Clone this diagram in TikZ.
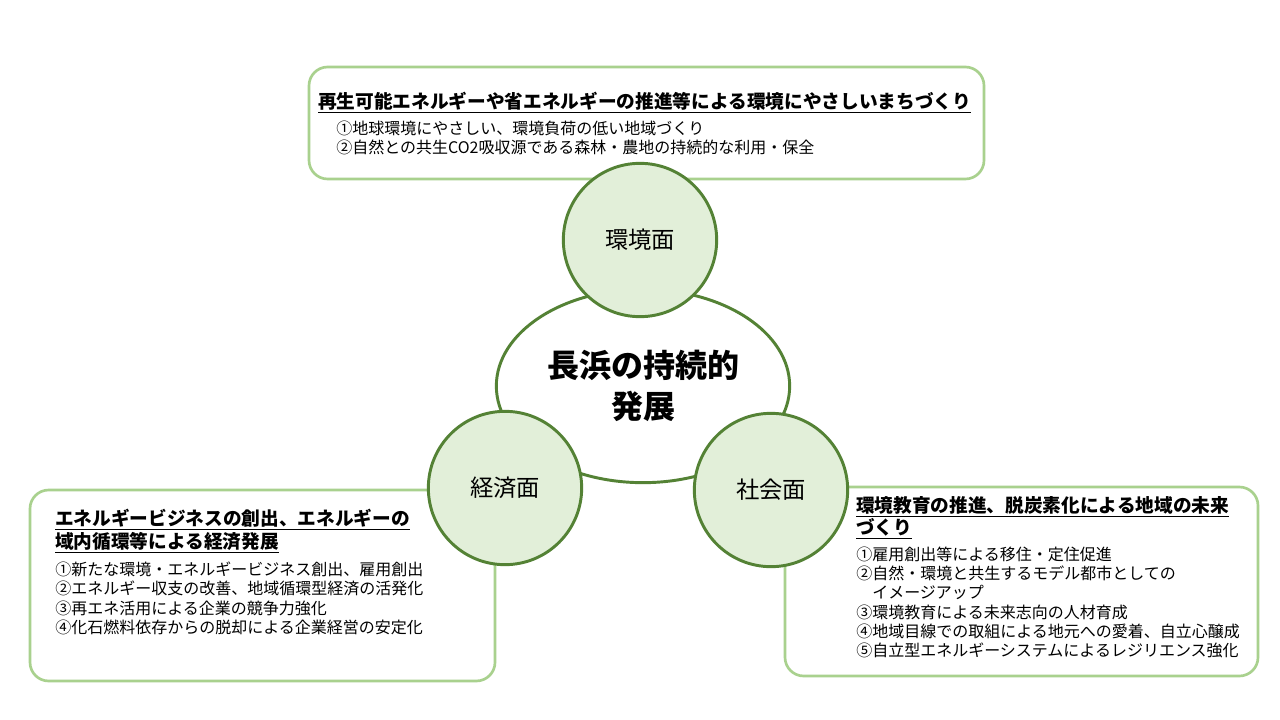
\documentclass[tikz,border=0pt]{standalone}
\usepackage{fontspec}
\usetikzlibrary{shapes.geometric}
\setmainfont{Noto Sans CJK JP}
\begin{document}
\begin{tikzpicture}[x=0.75pt,y=-0.75pt,
  box/.style={draw={rgb,255:red,169;green,209;blue,142}, line width=2pt, rounded corners=14pt},
  circ/.style={circle, draw={rgb,255:red,84;green,130;blue,53}, line width=2.2pt, fill={rgb,255:red,226;green,239;blue,217}, minimum size=115pt, inner sep=0pt, font=\fontsize{17.5}{20}\selectfont},
  ttl/.style={anchor=north west, inner sep=0pt, font=\fontsize{14}{17}\selectfont\bfseries, align=left},
  itm/.style={anchor=north west, inner sep=0pt, font=\fontsize{12}{14.3}\selectfont, align=left}]
\useasboundingbox (0,0) rectangle (1280,720);
\fill[white] (0,0) rectangle (1280,720);
\draw[box] (309,67) rectangle (984,179);
\draw[box] (30,490) rectangle (495,681);
\draw[box] (785,487) rectangle (1258,676);
\node[ttl] (t1) at (318,92) {\underline{再生可能エネルギーや省エネルギーの推進等による環境にやさしいまちづくり}};
\node[itm] (i1) at (336,121) {①地球環境にやさしい、環境負荷の低い地域づくり\\②自然との共生CO2吸収源である森林・農地の持続的な利用・保全};
\node[ttl] (t2) at (55,509) {\underline{エネルギービジネスの創出、エネルギーの}\\\underline{域内循環等による経済発展}};
\node[itm] (i2) at (55,562) {①新たな環境・エネルギービジネス創出、雇用創出\\②エネルギー収支の改善、地域循環型経済の活発化\\③再エネ活用による企業の競争力強化\\④化石燃料依存からの脱却による企業経営の安定化};
\node[ttl] (t3) at (856,496) {\underline{環境教育の推進、脱炭素化による地域の未来}\\\underline{づくり}};
\node[itm] (i3) at (856,547) {①雇用創出等による移住・定住促進\\②自然・環境と共生するモデル都市としての\\\phantom{②}イメージアップ\\③環境教育による未来志向の人材育成\\④地域目線での取組による地元への愛着、自立心醸成\\⑤自立型エネルギーシステムによるレジリエンス強化};
\node[ellipse, draw={rgb,255:red,84;green,130;blue,53}, line width=2.2pt, fill=white, minimum width=220pt, minimum height=145pt, inner sep=0pt, font=\fontsize{24}{31}\selectfont\bfseries, align=center] (c) at (643,386) {長浜の持続的\\発展};
\node[circ] (a) at (640,240) {環境面};
\node[circ] (b) at (505,488) {経済面};
\node[circ] (s) at (771,490) {社会面};
\end{tikzpicture}
\end{document}
